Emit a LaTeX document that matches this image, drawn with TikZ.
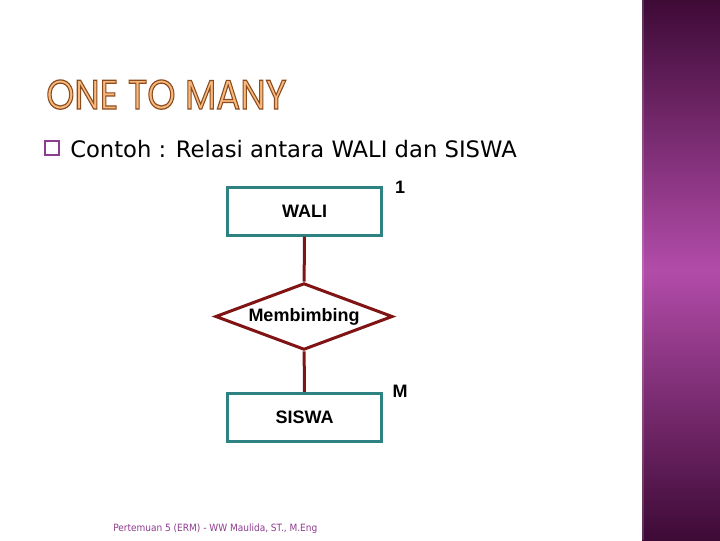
\documentclass[tikz,border=0pt]{standalone}
\usepackage{fontspec}
\setmainfont{Liberation Sans}
\newfontfamily\bodyfont{DejaVu Sans}
\newfontfamily\footfont{DejaVu Sans Condensed}
\newfontfamily\headfont{Poppins}
\usepackage{xcolor}
\usetikzlibrary{shapes.geometric, positioning, calc}
\definecolor{entteal}{HTML}{2E8282}
\definecolor{relred}{HTML}{801414}
\definecolor{bandlight}{HTML}{B24CA9}
\definecolor{banddark}{HTML}{3E0A36}
\definecolor{headfill}{HTML}{F7BA7C}
\definecolor{footpurple}{HTML}{8E3C8E}
% outlined letters: fill and stroke
\newcommand{\outlinetext}[1]{%
  \special{pdf:literal direct 2 Tr 0.9 w 0.55 0.29 0.12 RG}#1%
  \special{pdf:literal direct 0 Tr}}
\tikzset{
  entitybox/.style={
    draw=entteal, line width=2.25pt, fill=white,
    minimum width=116pt, minimum height=36pt,
    font=\fontsize{13.5}{16}\selectfont\bfseries
  },
  relshape/.style={
    diamond, draw=relred, line width=2.25pt, fill=white,
    aspect=2.66, inner sep=0pt,
    minimum width=133pt, minimum height=50pt,
    font=\fontsize{13.5}{16}\selectfont\bfseries
  },
  relline/.style={draw=relred, line width=2.25pt},
  cardlabel/.style={font=\fontsize{13.5}{16}\selectfont\bfseries},
  headtext/.style={
    font=\headfont\fontsize{31}{36}\selectfont, anchor=base west,
    xscale=0.87, inner sep=0pt
  },
}

\begin{document}
\begin{tikzpicture}[x=0.75pt, y=-0.75pt]
  \useasboundingbox (0,0) rectangle (720,540);
  \fill[white] (0,0) rectangle (720,540);
  % side band
  \shade[top color=banddark, bottom color=banddark, middle color=bandlight]
    (642,0) rectangle (720,540);
  \draw[white, opacity=0.15, line width=1.5pt] (643,0) -- (643,540);
  % title
  \node[headtext, text=headfill] (head) at (46,109)
    {\outlinetext{ONE TO MANY}};
  % bullet line
  \node[draw=footpurple, line width=0.8pt, minimum size=10.5pt, inner sep=0pt]
    (bullet) at (52,148) {};
  \node[font=\bodyfont\fontsize{17}{20}\selectfont, anchor=base west,
    inner sep=0pt] (intro) at (70,157) {Contoh : Relasi antara WALI dan SISWA};
  % entities and relation
  \node[entitybox] (wali) at (304.5,211) {WALI};
  \node[relshape] (bimbing) at (304,316.5) {Membimbing};
  \node[entitybox] (siswa) at (304.5,417.5) {SISWA};
  \draw[relline] (wali) -- (bimbing);
  \draw[relline] (bimbing) -- (siswa);
  % cardinality
  \node[cardlabel] (one) at (400,187) {1};
  \node[cardlabel] (many) at (400,391) {M};
  % footer
  \node[font=\footfont\fontsize{7.5}{9}\selectfont, text=footpurple,
    anchor=base west, inner sep=0pt] (foot) at (113,531)
    {Pertemuan 5 (ERM) - WW Maulida, ST., M.Eng};
\end{tikzpicture}
\end{document}
